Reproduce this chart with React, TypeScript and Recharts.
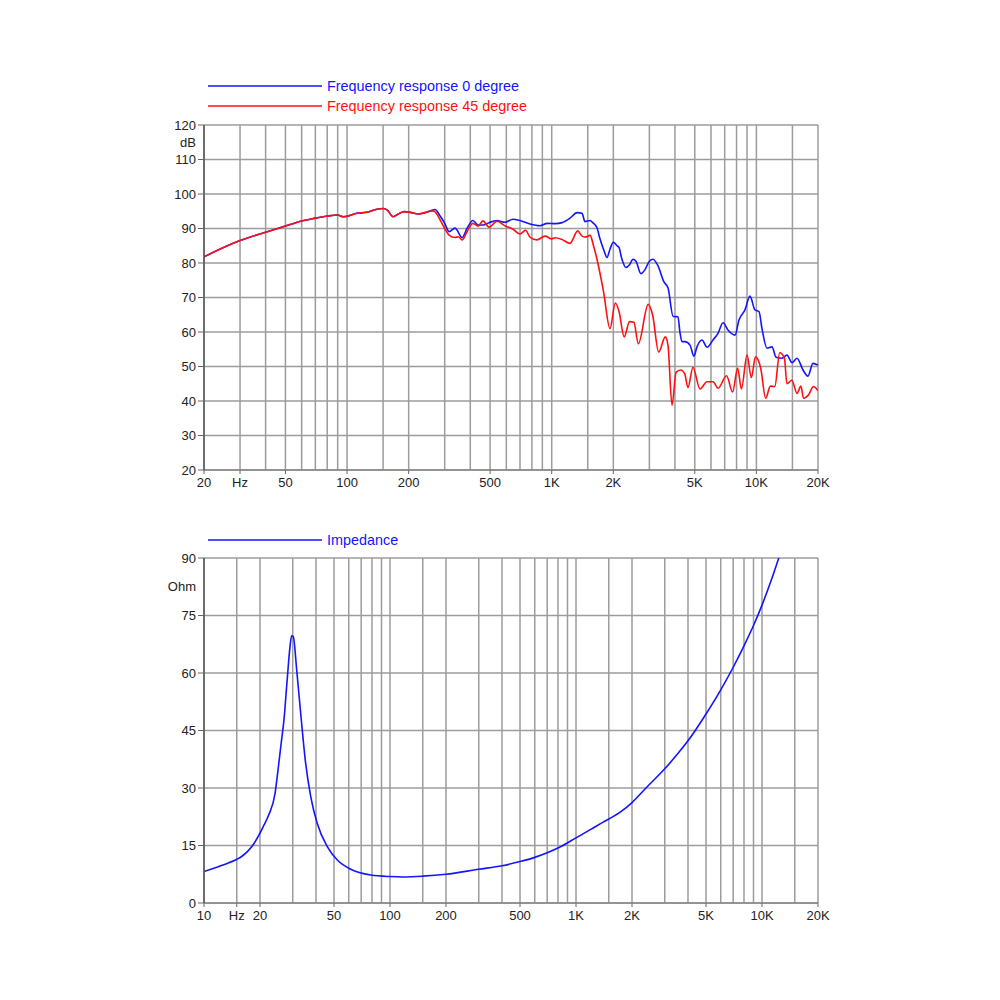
import React from 'react';
import { LineChart, Line, XAxis, YAxis, CartesianGrid } from 'recharts';

// frequency response, 0 degree
const freq0 = [20, 30, 40, 50, 60, 70, 80, 90, 96, 112, 125, 140, 150, 157, 168, 178, 190, 207, 222, 240, 260, 269, 285, 300, 315, 337, 365, 386, 412, 437, 462, 494, 540, 591, 647, 700, 783, 877, 950, 1040, 1123, 1228, 1330, 1406, 1454, 1540, 1580, 1664, 1721, 1800, 1862, 1926, 2000, 2085, 2131, 2205, 2306, 2400, 2496, 2580, 2729, 2850, 3000, 3124, 3305, 3537, 3699, 3918, 4137, 4229, 4328, 4474, 4737, 4955, 5125, 5424, 5741, 6137, 6493, 6872, 7262, 7864, 8222, 8792, 9302, 9841, 10300, 10650, 11270, 11920, 12475, 13340, 14100, 14930, 15790, 16890, 17860, 18900, 20000];
const db0 = [81.8, 86.5, 88.9, 90.7, 92.2, 93.0, 93.6, 93.9, 93.4, 94.4, 94.7, 95.6, 95.8, 95.4, 93.4, 94.2, 94.9, 94.6, 94.2, 94.6, 95.3, 95.5, 93.6, 91.5, 89.1, 90.1, 87.4, 90.1, 92.3, 91.0, 91.0, 91.7, 92.3, 91.8, 92.7, 92.3, 91.3, 90.8, 91.5, 91.4, 91.7, 93.0, 94.6, 94.4, 92.0, 92.3, 91.8, 90.2, 87.0, 83.6, 81.6, 84.0, 86.0, 85.0, 84.5, 81.0, 78.7, 79.5, 81.1, 80.5, 76.9, 78.0, 80.5, 81.1, 79.2, 74.5, 72.8, 64.5, 64.4, 60.0, 57.2, 57.2, 56.2, 53.0, 55.7, 57.7, 55.6, 57.7, 59.6, 62.7, 60.6, 59.1, 63.5, 66.4, 70.4, 66.4, 65.9, 61.0, 55.3, 55.7, 52.7, 52.4, 53.3, 51.1, 52.4, 49.0, 47.2, 50.9, 50.4];

// frequency response, 45 degree
const freq45 = [20, 30, 40, 50, 60, 70, 80, 90, 96, 112, 125, 140, 150, 157, 168, 178, 190, 207, 222, 240, 260, 269, 285, 300, 315, 337, 350, 365, 385, 412, 437, 461, 494, 540, 591, 647, 700, 745, 783, 847, 927, 1000, 1040, 1123, 1228, 1340, 1406, 1460, 1540, 1600, 1680, 1790, 1926, 2045, 2131, 2260, 2400, 2520, 2650, 2960, 3110, 3330, 3590, 3700, 3870, 4050, 4270, 4470, 4630, 4900, 5300, 5740, 6140, 6500, 7150, 7650, 8100, 8450, 9000, 9450, 9900, 10500, 11100, 11700, 12300, 13000, 13700, 14100, 14900, 15800, 16500, 17000, 18000, 19000, 20000];
const db45 = [81.8, 86.5, 88.9, 90.7, 92.2, 93.0, 93.6, 93.9, 93.4, 94.4, 94.7, 95.6, 95.8, 95.4, 93.4, 94.2, 94.9, 94.6, 94.2, 94.6, 95.1, 94.8, 92.5, 90.0, 88.1, 87.4, 87.6, 86.7, 89.0, 91.5, 90.7, 92.2, 90.4, 92.1, 90.8, 89.8, 88.4, 89.5, 87.5, 86.7, 87.8, 87.0, 87.3, 86.8, 85.7, 89.3, 87.8, 87.5, 88.0, 85.0, 80.0, 71.8, 61.0, 68.4, 66.0, 58.6, 63.0, 62.8, 56.6, 68.0, 65.0, 54.2, 58.6, 56.1, 38.8, 48.3, 49.0, 47.8, 43.9, 49.8, 43.5, 45.6, 45.6, 43.7, 47.3, 42.6, 49.5, 43.5, 53.3, 46.8, 52.8, 49.5, 40.8, 44.3, 44.2, 54.0, 52.5, 45.0, 46.0, 42.2, 44.3, 40.8, 41.8, 44.2, 43.0];

// impedance
const impFreq = [10, 12.3, 15, 16, 17.1, 18.5, 20, 21, 22.3, 24.1, 25, 26, 26.9, 28, 29, 29.6, 30.2, 31.5, 33.1, 35.2, 37.5, 40.6, 46, 52.1, 61.5, 78.8, 100, 118, 150, 200, 300, 400, 500, 600, 700, 820, 1000, 1200, 1400, 1500, 1750, 2000, 2400, 3000, 3475, 4000, 5000, 6000, 7000, 8000, 9000, 10000, 11270, 12500];
const impOhm = [8.2, 9.7, 11.4, 12.2, 13.4, 15.4, 18.2, 20.3, 23.0, 28.6, 34.7, 41.7, 47.7, 58.2, 66.9, 69.7, 69.5, 60.8, 49.5, 36.4, 27.7, 20.8, 14.7, 11.2, 8.8, 7.3, 6.9, 6.8, 7.0, 7.5, 8.8, 9.7, 10.8, 11.9, 13.1, 14.6, 17.0, 19.2, 21.1, 21.9, 23.9, 26.2, 30.2, 35.0, 38.6, 42.3, 49.3, 55.6, 61.5, 67.1, 72.4, 77.7, 84.5, 91.0];

const splNames = ['Frequency response 0 degree', 'Frequency response 45 degree'];
const impName = 'Impedance';

const splTicksX = [20, 30, 50, 100, 200, 500, 1000, 2000, 5000, 10000, 20000];
const splGridX = [20, 30, 40, 50, 60, 70, 80, 90, 100, 150, 200, 300, 400, 500, 600, 700, 800, 900, 1000, 1500, 2000, 3000, 4000, 5000, 6000, 7000, 8000, 9000, 10000, 15000, 20000];
const splTicksY = [20, 30, 40, 50, 60, 70, 80, 90, 100, 110, 115, 120];
const splGridY = [20, 30, 40, 50, 60, 70, 80, 90, 100, 110, 120];

const impTicksX = [10, 15, 20, 50, 100, 200, 500, 1000, 2000, 5000, 10000, 20000];
const impGridX = [10, 15, 20, 30, 40, 50, 60, 70, 80, 90, 100, 150, 200, 300, 400, 500, 600, 700, 800, 900, 1000, 1500, 2000, 3000, 4000, 5000, 6000, 7000, 8000, 9000, 10000, 15000, 20000];
const impTicksY = [0, 15, 30, 45, 60, 75, 82.5, 90];
const impGridY = [0, 15, 30, 45, 60, 75, 90];

const spl0 = freq0.map((f, i) => ({ f, v: db0[i] }));
const spl45 = freq45.map((f, i) => ({ f, v: db45[i] }));
const imp = impFreq.map((f, i) => ({ f, v: impOhm[i] }));

const BLUE = '#1414ff';
const RED = '#ff1010';
const FONT = '"Liberation Sans", Arial, Helvetica, sans-serif';

const fmtHz = (v: number, hzAt: number) => {
  if (v === hzAt) return 'Hz';
  if (v >= 1000) return `${v / 1000}K`;
  return String(v);
};

const XTick = (props: any) => {
  const { x, y, payload, hzAt } = props;
  return (
    <g>
      <line x1={x} x2={x} y1={y - 7} y2={y - 3} stroke="#666" strokeWidth={1} />
      <text x={x} y={y + 10} textAnchor="middle" fontSize={13} fontFamily={FONT} fill="#222">
        {fmtHz(payload.value, hzAt)}
      </text>
    </g>
  );
};

const YTick = (props: any) => {
  const { x, y, payload, unitAt, unit } = props;
  const isUnit = payload.value === unitAt;
  return (
    <g>
      {!isUnit && <line x1={x + 1} x2={x + 7} y1={y} y2={y} stroke="#666" strokeWidth={1} />}
      <text x={x - 1} y={y + 4.5} textAnchor="end" fontSize={13} fontFamily={FONT} fill="#222">
        {isUnit ? unit : payload.value}
      </text>
    </g>
  );
};

const LegendRow = ({ y, color, label }: { y: number; color: string; label: string }) => (
  <g>
    <line x1={208} x2={322} y1={y} y2={y} stroke={color} strokeWidth={1.5} />
    <text x={327} y={y + 5} fontSize={14.4} fontFamily={FONT} fill={color}>{label}</text>
  </g>
);

export default function App() {
  return (
    <div style={{ position: 'absolute', left: 0, top: 0, width: 1000, height: 1000, background: '#fff' }}>
      <svg width={1000} height={1000} style={{ position: 'absolute', left: 0, top: 0 }}>
        <LegendRow y={86} color={BLUE} label={splNames[0]} />
        <LegendRow y={106} color={RED} label={splNames[1]} />
        <LegendRow y={540} color={BLUE} label={impName} />
      </svg>

      <div style={{ position: 'absolute', left: 0, top: 0 }}>
        <LineChart width={1000} height={500} margin={{ top: 125, right: 182, bottom: 0, left: 0 }}>
          <CartesianGrid horizontalValues={splGridY} verticalValues={splGridX} stroke="#9c9c9c" strokeWidth={1.5} />
          <XAxis
            dataKey="f"
            type="number"
            scale="log"
            domain={[20, 20000]}
            allowDataOverflow
            ticks={splTicksX}
            interval={0}
            height={30}
            tickSize={5}
            tickMargin={2}
            tickLine={false}
            axisLine={{ stroke: '#888', strokeWidth: 1.5 }}
            tick={(p: any) => <XTick {...p} hzAt={30} />}
          />
          <YAxis
            type="number"
            domain={[20, 120]}
            ticks={splTicksY}
            interval={0}
            width={204}
            tickSize={5}
            tickMargin={2}
            tickLine={false}
            axisLine={{ stroke: '#555', strokeWidth: 1.5 }}
            tick={(p: any) => <YTick {...p} unitAt={115} unit="dB" />}
          />
          <Line data={spl0} dataKey="v" name={splNames[0]} type="monotone" stroke={BLUE} strokeWidth={1.6} dot={false} isAnimationActive={false} />
          <Line data={spl45} dataKey="v" name={splNames[1]} type="monotone" stroke={RED} strokeWidth={1.6} dot={false} isAnimationActive={false} />
        </LineChart>
      </div>

      <div style={{ position: 'absolute', left: 0, top: 500 }}>
        <LineChart width={1000} height={450} margin={{ top: 58, right: 182, bottom: 17, left: 0 }}>
          <CartesianGrid horizontalValues={impGridY} verticalValues={impGridX} stroke="#9c9c9c" strokeWidth={1.5} />
          <XAxis
            dataKey="f"
            type="number"
            scale="log"
            domain={[10, 20000]}
            allowDataOverflow
            ticks={impTicksX}
            interval={0}
            height={30}
            tickSize={5}
            tickMargin={2}
            tickLine={false}
            axisLine={{ stroke: '#888', strokeWidth: 1.5 }}
            tick={(p: any) => <XTick {...p} hzAt={15} />}
          />
          <YAxis
            type="number"
            domain={[0, 90]}
            allowDataOverflow
            ticks={impTicksY}
            interval={0}
            width={204}
            tickSize={5}
            tickMargin={2}
            tickLine={false}
            axisLine={{ stroke: '#555', strokeWidth: 1.5 }}
            tick={(p: any) => <YTick {...p} unitAt={82.5} unit="Ohm" />}
          />
          <Line data={imp} dataKey="v" name={impName} type="monotone" stroke={BLUE} strokeWidth={1.6} dot={false} isAnimationActive={false} />
        </LineChart>
      </div>
    </div>
  );
}
